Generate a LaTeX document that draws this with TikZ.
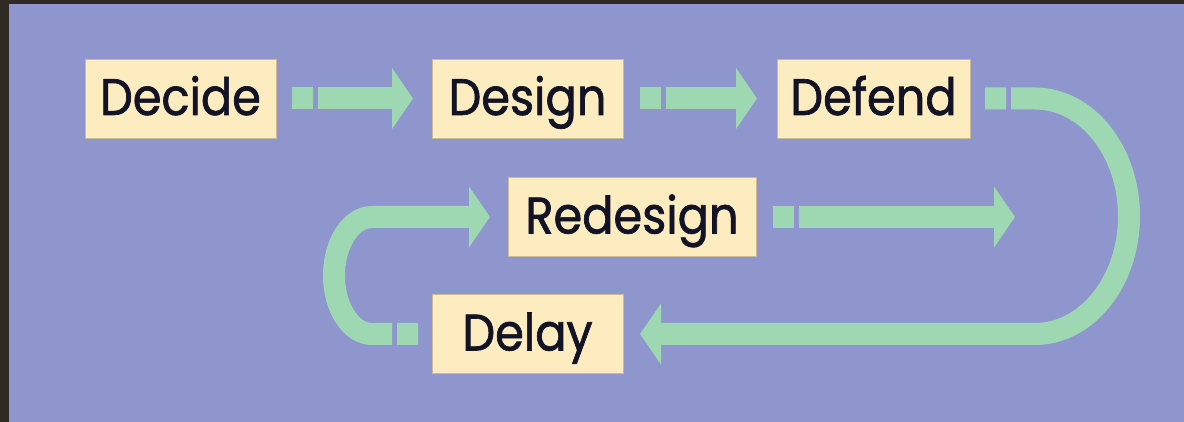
\documentclass[tikz,border=0pt]{standalone}
\usepackage{fontspec}
\setmainfont{Poppins}[FakeStretch=0.9,FakeBold=1.3]
\usetikzlibrary{arrows.meta}

\definecolor{framedark}{RGB}{47,43,36}
\definecolor{bgpurple}{RGB}{142,150,205}
\definecolor{boxcream}{RGB}{253,236,192}
\definecolor{boxedge}{RGB}{205,185,150}
\definecolor{arrowgreen}{RGB}{158,216,178}
\definecolor{ink}{RGB}{18,20,38}

\begin{document}
\begin{tikzpicture}
[x=0.5pt,y=0.5pt,
 box/.style={rectangle,fill=boxcream,draw=boxedge,line width=0.4pt,minimum height=39.5pt,
             inner sep=0pt,outer sep=0pt,text height=18pt,text depth=1.5pt,text=ink,
             font=\fontsize{25.7}{30}\selectfont},
 flow/.style={draw=arrowgreen,line width=11pt,dash pattern=on 10.5pt off 2.5pt on 2000pt,
              -{Triangle[width=30pt,length=10.5pt]}}]
\useasboundingbox (0,0) rectangle (1184,422);
\fill[framedark] (0,0) rectangle (1184,422);
\fill[bgpurple]  (9,0) rectangle (1184,418);

\node[box,minimum width=95.5pt] (decide)   at (180.5,323.5) {Decide};
\node[box,minimum width=95.5pt] (design)   at (527.5,323.5) {Design};
\node[box,minimum width=96.5pt] (defend)   at (873.5,323.5) {Defend};
\node[box,minimum width=124pt]  (redesign) at (632,205)     {Redesign};
\node[box,minimum width=95.5pt] (delay)    at (527.5,88)    {Delay};
\coordinate (redesigntip) at (1015,205);

\draw[flow,shorten <=8pt,shorten >=9.5pt] (decide) -- (design);
\draw[flow,shorten <=8.5pt,shorten >=10pt] (design) -- (defend);
\draw[flow,shorten <=8.5pt] (redesign) -- (redesigntip);
\draw[flow,shorten <=7.5pt,shorten >=8.5pt]
  (defend.east) -- (1035,323.5) arc[start angle=90,end angle=-90,x radius=94,y radius=117.75]
  -- (delay.east);
\draw[flow,shorten <=7pt,shorten >=9pt]
  (delay.west) -- (372,88) arc[start angle=270,end angle=90,x radius=38,y radius=58.5]
  -- (redesign.west);
\end{tikzpicture}
\end{document}
